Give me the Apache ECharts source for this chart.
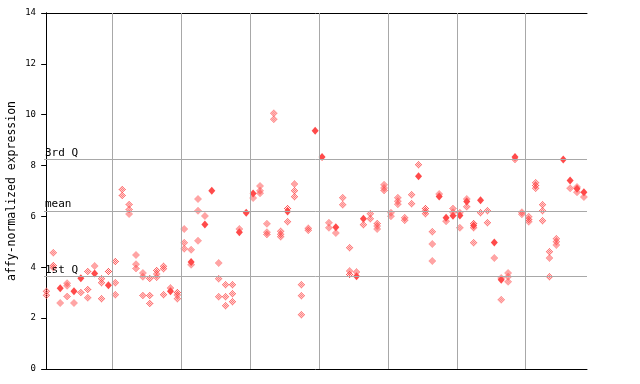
<!DOCTYPE html>
<html><head><meta charset="utf-8">
<script src="https://cdn.jsdelivr.net/npm/echarts@6/dist/echarts.min.js"></script>
<style>html,body{margin:0;padding:0;background:#fff}#c{width:640px;height:384px}</style>
</head><body><div id="c"></div>
<script>
// ---- data ----
const yTicks = [0, 2, 4, 6, 8, 10, 12, 14];
const guideNames = ['3rd Q', 'mean', '1st Q'];
const guideValues = [8.23, 6.22, 3.63];
const groupBounds = [9.55, 19.55, 29.55, 39.55, 49.55, 59.55, 69.55];
// open (checkered) markers, one list per sample position 0..78
const hollowValues = [
  [3.06, 2.90], [4.57, 4.07, 3.98], [2.60], [3.37, 3.27, 2.85], [2.60],
  [3.01], [3.83, 3.13, 2.80], [4.05], [3.55, 3.39, 2.76], [3.83],
  [4.23, 3.39, 2.92], [7.06, 6.82], [6.47, 6.27, 6.10], [4.48, 4.12, 3.95], [3.78, 3.63, 2.89],
  [3.56, 2.89, 2.58], [3.87, 3.74, 3.61], [4.04, 3.94, 2.92], [3.19], [3.01, 2.91, 2.76],
  [5.51, 4.96, 4.73], [4.69, 4.10], [6.69, 6.22, 5.04], [6.02], [],
  [4.17, 3.55, 2.84], [3.31, 2.84, 2.49], [3.31, 2.96, 2.64], [5.51], [],
  [6.72], [7.20, 7.01, 6.91], [5.71, 5.38, 5.29], [10.06, 9.82], [5.42, 5.30, 5.20],
  [6.31, 5.79], [7.28, 7.01, 6.77], [3.31, 2.88, 2.13], [5.54, 5.46], [],
  [], [5.75, 5.55], [5.35], [6.73, 6.46], [4.77, 3.85, 3.72],
  [3.81], [5.67], [6.11, 5.91], [5.72, 5.62, 5.51], [7.25, 7.12, 7.02],
  [6.14, 6.01], [6.73, 6.60, 6.48], [5.95, 5.85], [6.85, 6.50], [8.03],
  [6.31, 6.21, 6.11], [5.40, 4.92, 4.25], [6.88], [5.81], [6.31, 6.16],
  [6.14, 5.55], [6.69, 6.38], [5.72, 5.55, 4.96], [6.14], [6.22, 5.75],
  [4.37], [3.58, 2.72], [3.78, 3.63, 3.43], [8.24], [6.16, 6.09],
  [5.99, 5.88, 5.79], [7.32, 7.22, 7.11], [6.46, 6.22, 5.83], [4.61, 4.37, 3.63], [5.12, 5.00, 4.88],
  [], [7.11], [7.16, 6.95], [6.76]
];
// filled markers, one per sample position (null = none)
const solidValues = [
  null, null, 3.18, null, 3.06, 3.57, null, 3.76, null, 3.29,
  null, null, null, null, null, null, null, null, 3.06, null,
  null, 4.21, null, 5.68, 7.01, null, null, null, 5.38, 6.14,
  6.90, null, null, null, null, 6.19, null, null, null, 9.37,
  8.34, null, 5.57, null, null, 3.65, 5.91, null, null, null,
  null, null, null, null, 7.58, null, null, 6.78, 5.95, 6.03,
  6.04, 6.59, 5.64, 6.64, null, 4.97, 3.51, null, 8.34, null,
  null, null, null, null, null, 8.24, 7.41, 7.09, 6.95
];

// ---- build ----
const RED = '#ff4a4a';
const mono = 'DejaVu Sans Mono';
// checkered diamond 7x7 pixel path
let checker = '';
for (let cy = 0; cy < 7; cy++) for (let cx = 0; cx < 7; cx++) {
  const dx = cx - 3, dy = cy - 3;
  if (Math.abs(dx) + Math.abs(dy) <= 3 && Math.abs(dx + dy) % 2 === 1) {
    checker += 'M' + cx + ' ' + cy + 'h1v1h-1Z';
  }
}
const hollowData = [];
hollowValues.forEach((arr, i) => arr.forEach(v => hollowData.push([i, v])));
const solidData = [];
solidValues.forEach((v, i) => { if (v !== null) solidData.push([i, v]); });

const chart = echarts.init(document.getElementById('c'), null, {renderer: 'canvas'});
chart.setOption({
  animation: false,
  backgroundColor: '#fff',
  grid: {left: 44, top: 13, width: 543, height: 356, containLabel: false, outerBoundsMode: 'none'},
  xAxis: [
    {type: 'value', min: -0.35, max: 78.45, position: 'bottom',
     axisLine: {show: true, lineStyle: {color: '#000', width: 1}},
     axisTick: {show: false}, axisLabel: {show: false}, splitLine: {show: false}},
    {type: 'value', min: -0.35, max: 78.45, position: 'top',
     axisLine: {show: true, onZero: false, lineStyle: {color: '#000', width: 1}},
     axisTick: {show: false}, axisLabel: {show: false}, splitLine: {show: false}}
  ],
  yAxis: [
    {type: 'value', min: 0, max: 14, interval: 2, position: 'left',
     name: 'affy-normalized expression', nameLocation: 'middle', nameRotate: 90, nameGap: 26,
     nameMoveOverlap: false,
     nameTextStyle: {fontFamily: mono, fontSize: 11.5, color: '#000'},
     axisLine: {show: true, lineStyle: {color: '#000', width: 1}},
     axisTick: {show: true, length: 5, lineStyle: {color: '#000'}},
     axisLabel: {fontFamily: mono, fontSize: 9, color: '#000', margin: 8,
       formatter: v => yTicks.includes(v) ? String(v) : ''},
     splitLine: {show: false}},
    {type: 'value', min: 0, max: 14, interval: 2, position: 'right',
     axisLine: {show: true, lineStyle: {color: '#000', width: 1}},
     axisTick: {show: true, inside: true, length: 5, lineStyle: {color: '#000'}},
     axisLabel: {show: false}, splitLine: {show: false}}
  ],
  series: [
    {type: 'scatter', name: 'lines', data: [], silent: true,
     markLine: {silent: true, symbol: 'none', animation: false,
       lineStyle: {color: '#a8a8a8', width: 1, type: 'solid'},
       data: groupBounds.map(b => ({xAxis: b, label: {show: false}})).concat(
         guideValues.map((g, k) => ({yAxis: g, label: {show: true, formatter: guideNames[k],
           position: 'insideStartTop', distance: [1, 1], color: '#000',
           fontFamily: mono, fontSize: 11}})))
     }},
    {type: 'scatter', name: 'replicates', data: hollowData, symbol: 'path://' + checker,
     symbolSize: [7, 7], itemStyle: {color: RED, opacity: 1}, z: 3},
    {type: 'scatter', name: 'means', data: solidData, symbol: 'diamond',
     symbolSize: [7, 8], itemStyle: {color: RED, opacity: 1}, z: 4}
  ]
});
</script></body></html>
